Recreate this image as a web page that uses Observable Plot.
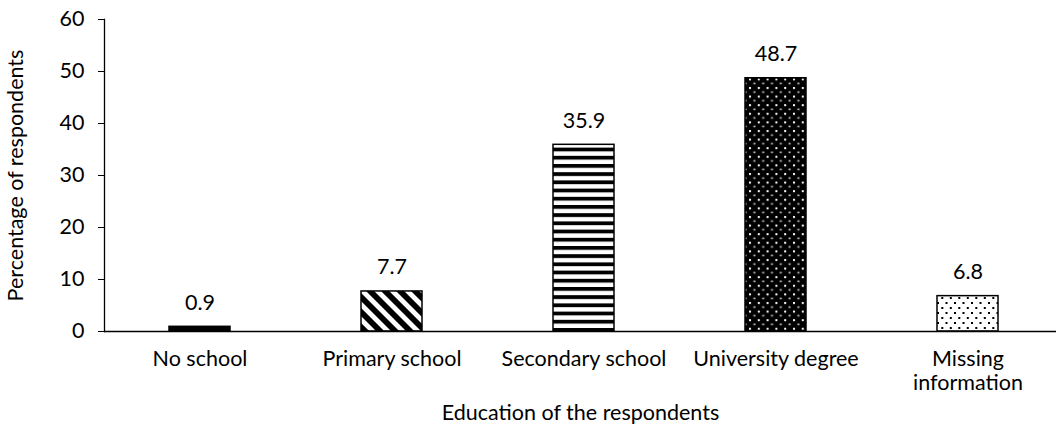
<!DOCTYPE html>
<html>
<head>
<meta charset="utf-8">
<script src="https://cdn.jsdelivr.net/npm/d3@7"></script>
<script src="https://cdn.jsdelivr.net/npm/@observablehq/plot@0.6"></script>
<style>
  html, body { margin: 0; padding: 0; background: #fff; }
  #chart svg { display: block; }
</style>
</head>
<body>
<div id="chart"></div>
<script>
const categories = ["No school", "Primary school", "Secondary school", "University degree", "Missing information"];
const tickLabels = ["No school", "Primary school", "Secondary school", "University degree", "Missing\ninformation"];
const percentages = [0.9, 7.7, 35.9, 48.7, 6.8];
const yTicks = [0, 10, 20, 30, 40, 50, 60];

const data = categories.map((c, i) => ({category: c, value: percentages[i]}));
const patternFills = ["#000", "url(#p-diag)", "url(#p-horiz)", "url(#p-dense)", "url(#p-sparse)"];

const defs = () => {
  const ns = "http://www.w3.org/2000/svg";
  const g = document.createElementNS(ns, "defs");
  g.innerHTML = `
    <pattern id="p-diag" patternUnits="userSpaceOnUse" width="10.6" height="10.6" patternTransform="rotate(-45)">
      <rect width="10.6" height="10.6" fill="#fff"/>
      <rect width="5.8" height="10.6" fill="#000"/>
    </pattern>
    <pattern id="p-horiz" patternUnits="userSpaceOnUse" width="8" height="8.2">
      <rect width="8" height="8.2" fill="#fff"/>
      <rect width="8" height="3.8" fill="#000"/>
    </pattern>
    <pattern id="p-dense" patternUnits="userSpaceOnUse" width="8.8" height="8.6">
      <rect width="8.8" height="8.6" fill="#000"/>
      <rect x="1" y="1" width="2" height="2" fill="#fff"/>
      <rect x="5.4" y="5.3" width="2" height="1.6" fill="#ccc"/>
    </pattern>
    <pattern id="p-sparse" patternUnits="userSpaceOnUse" width="17" height="10">
      <rect width="17" height="10" fill="#fff"/>
      <rect x="2" y="2" width="2" height="2" fill="#000"/>
      <rect x="10.5" y="2" width="2" height="2" fill="#000"/>
      <rect x="6.3" y="7" width="2" height="2" fill="#000"/>
      <rect x="14.8" y="7" width="2" height="2" fill="#000"/>
    </pattern>`;
  return g;
};

const FS = 21.5;
const chart = Plot.plot({
  width: 1056,
  height: 439,
  marginLeft: 104,
  marginRight: 0,
  marginTop: 19,
  marginBottom: 108,
  style: {fontFamily: "Lato, 'Open Sans', sans-serif", fontSize: FS + "px", color: "#000", background: "#fff"},
  x: {domain: categories, range: [104, 1064], paddingInner: 0.68, paddingOuter: 0.34, label: null},
  y: {domain: [0, 60], label: null},
  color: {domain: categories, range: patternFills},
  marks: [
    defs,
    Plot.barY(data, {x: "category", y: "value", fill: "category", stroke: "#000", strokeWidth: 1.5}),
    Plot.text(data, {x: "category", y: "value", text: d => d.value.toFixed(1), dy: -24, fontSize: FS, fill: "#000"}),
    Plot.ruleY([0], {stroke: "#000", strokeWidth: 1.3}),
    Plot.frame({anchor: "left", stroke: "#000", strokeWidth: 1.3}),
    Plot.axisY({ticks: yTicks, tickSize: 6, tickPadding: 14, tickFormat: d => String(d), label: "Percentage of respondents", labelAnchor: "center", labelOffset: 97, labelArrow: "none", fontSize: FS}),
    Plot.axisX({tickSize: 0, tickPadding: 17, lineHeight: 1.12, tickFormat: d => tickLabels[categories.indexOf(d)], label: "Education of the respondents", labelAnchor: "center", labelOffset: 88, labelArrow: "none", fontSize: FS})
  ]
});
document.getElementById("chart").appendChild(chart);
</script>
</body>
</html>
